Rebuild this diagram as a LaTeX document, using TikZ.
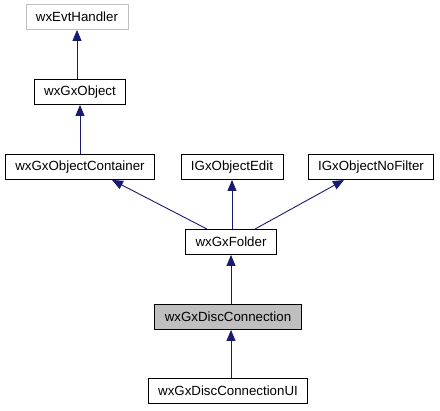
\documentclass[tikz,border=0pt]{standalone}
\usepackage{fontspec}
\setmainfont{Liberation Sans}
\usetikzlibrary{arrows.meta}

\begin{document}
\begin{tikzpicture}[
  x=1pt, y=1pt,
  cls/.style = {draw=#1,line width=0.9pt,rectangle,minimum height=25pt,
    inner xsep=10pt,inner ysep=0pt,font=\fontsize{13.3}{15}\selectfont},
  klass/.style = {cls=black},
  extern/.style = {cls=black!25},
  current/.style = {cls=black,fill=black!25},
  inherit/.style = {draw=midnightblue,line width=0.9pt,
    -{Triangle[length=11pt,width=9pt,fill=midnightblue]}}
  ]
  \definecolor{midnightblue}{RGB}{25,25,112}
  \useasboundingbox (0,0) rectangle (440,411);
  \node[extern] (evt) at (77,394) {wxEvtHandler};
  \node[klass] (obj) at (80,319) {wxGxObject};
  \node[klass] (container) at (80,244) {wxGxObjectContainer};
  \node[klass] (edit) at (232,244) {IGxObjectEdit};
  \node[klass] (nofilter) at (371,244) {IGxObjectNoFilter};
  \node[klass] (folder) at (231,169) {wxGxFolder};
  \node[current] (disc) at (228,94) {wxGxDiscConnection};
  \node[klass] (ui) at (228,20) {wxGxDiscConnectionUI};
  % inheritance edges
  \draw[inherit] (obj.north -| evt.south) -- (evt.south);
  \draw[inherit] (container.north) -- (obj.south);
  \draw[inherit] ([xshift=-24pt]folder.north) -- ([xshift=32pt]container.south);
  \draw[inherit] (folder.north -| edit.south) -- (edit.south);
  \draw[inherit] ([xshift=24pt]folder.north) -- ([xshift=-27pt]nofilter.south);
  \draw[inherit] (disc.north -| folder.south) -- (folder.south);
  \draw[inherit] (ui.north -| folder.south) -- (disc.south -| folder.south);
\end{tikzpicture}
\end{document}
